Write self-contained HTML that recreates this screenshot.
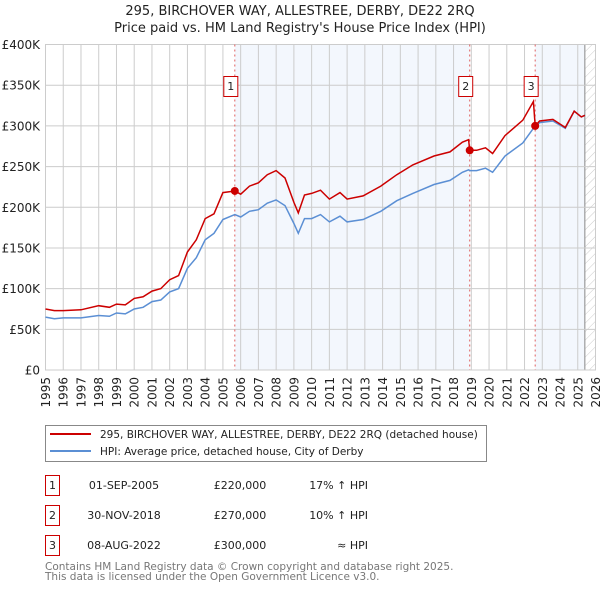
<!DOCTYPE html>
<html><head><meta charset="utf-8"><style>
body{margin:0;background:#fff;font-family:"Liberation Sans","DejaVu Sans",sans-serif;}
svg text{font-family:"DejaVu Sans","Liberation Sans",sans-serif;}
</style></head><body>
<svg id="chart" width="600" height="590" viewBox="0 0 600 590" xmlns="http://www.w3.org/2000/svg">
<defs>
<pattern id="hatch" width="6" height="6" patternUnits="userSpaceOnUse" patternTransform="rotate(45)"><line x1="0" y1="0" x2="0" y2="6" stroke="#ccc" stroke-width="1"/></pattern>
</defs>
<text x="300" y="15" text-anchor="middle" font-size="13" fill="#222">295, BIRCHOVER WAY, ALLESTREE, DERBY, DE22 2RQ</text>
<text x="300" y="32" text-anchor="middle" font-size="13" fill="#222">Price paid vs. HM Land Registry's House Price Index (HPI)</text>
<g id="plot"></g>
<g>
<rect x="45.5" y="425.5" width="441" height="36" fill="#fff" stroke="#888"/>
<line x1="50" y1="434" x2="91" y2="434" stroke="#cc0000" stroke-width="2"/>
<text x="100" y="438" font-size="10.5" fill="#222">295, BIRCHOVER WAY, ALLESTREE, DERBY, DE22 2RQ (detached house)</text>
<line x1="50" y1="451" x2="91" y2="451" stroke="#5b8fd4" stroke-width="2"/>
<text x="100" y="455" font-size="10.5" fill="#222">HPI: Average price, detached house, City of Derby</text>
</g>
<g font-size="11" fill="#222">
<rect x="45.5" y="475.5" width="14" height="20" fill="#fff" stroke="#cc0000"/><text x="52.5" y="489" text-anchor="middle">1</text>
<text x="124" y="489" text-anchor="middle">01-SEP-2005</text><text x="240" y="489" text-anchor="middle">£220,000</text><text x="368" y="489" text-anchor="end">17% ↑ HPI</text>
<rect x="45.5" y="505.5" width="14" height="20" fill="#fff" stroke="#cc0000"/><text x="52.5" y="519" text-anchor="middle">2</text>
<text x="124" y="519" text-anchor="middle">30-NOV-2018</text><text x="240" y="519" text-anchor="middle">£270,000</text><text x="368" y="519" text-anchor="end">10% ↑ HPI</text>
<rect x="45.5" y="535.5" width="14" height="20" fill="#fff" stroke="#cc0000"/><text x="52.5" y="549" text-anchor="middle">3</text>
<text x="124" y="549" text-anchor="middle">08-AUG-2022</text><text x="240" y="549" text-anchor="middle">£300,000</text><text x="368" y="549" text-anchor="end">≈ HPI</text>
</g>
<text x="45" y="570" font-size="10.5" fill="#777">Contains HM Land Registry data © Crown copyright and database right 2025.</text>
<text x="45" y="580" font-size="10.5" fill="#777">This data is licensed under the Open Government Licence v3.0.</text>
</svg>
<script>
const years=[1995,1995.5,1996,1997,1998,1998.6,1999,1999.5,2000,2000.5,2001,2001.5,2002,2002.5,2003,2003.5,2004,2004.5,2005,2005.67,2006,2006.5,2007,2007.5,2008,2008.5,2009,2009.25,2009.6,2010,2010.5,2011,2011.6,2012,2012.9,2013.9,2014.8,2015.7,2016.9,2017.8,2018.5,2018.85,2018.91,2019.3,2019.8,2020.2,2020.9,2021.9,2022.5,2022.6,2022.85,2023.6,2024.3,2024.8,2025.2,2025.4];
const hpi=[65,63,64,64,67,66,70,69,75,77,84,86,96,100,125,138,160,168,185,191,188,195,197,205,209,202,180,168,186,186,191,182,189,182,185,195,208,217,228,233,243,246,245,245,248,243,263,279,297,300,304,306,297,318,311,313];
const price=[75,73,73,74,79,77,81,80,88,90,97,100,111,116,145,160,186,192,218,220,216,226,230,240,245,236,206,193,215,217,221,210,218,210,214,226,240,252,263,268,280,283,270,270,273,266,288,307,330,300,306,308,298,318,311,313];
const saleYears=[2005.67,2018.91,2022.6];
const salePrices=[220,270,300];
const saleLabels=['1','2','3'];
const yTicks=[0,50,100,150,200,250,300,350,400];
const xTicks=[1995,1996,1997,1998,1999,2000,2001,2002,2003,2004,2005,2006,2007,2008,2009,2010,2011,2012,2013,2014,2015,2016,2017,2018,2019,2020,2021,2022,2023,2024,2025,2026];
const NS='http://www.w3.org/2000/svg';
const L=45.5,R=595.5,T=44.5,B=370;
const xs=y=>L+(y-1995)/(2026-1995)*(R-L);
const ys=v=>B-v/400*(B-T);
const g=document.getElementById('plot');
function mk(t,a,p){const e=document.createElementNS(NS,t);for(const k in a)e.setAttribute(k,a[k]);(p||g).appendChild(e);return e;}
let s=mk('rect',{x:xs(saleYears[0]),y:T,width:xs(saleYears[1])-xs(saleYears[0]),height:B-T,fill:'#eef3fc',opacity:0.7});


s=mk('rect',{x:xs(saleYears[2]),y:T,width:xs(2025.4)-xs(saleYears[2]),height:B-T,fill:'#eef3fc',opacity:0.7});


s=mk('rect',{x:xs(2025.4),y:T,width:R-xs(2025.4),height:B-T,fill:'url(#hatch)'});


mk('line',{x1:xs(2025.4),y1:T,x2:xs(2025.4),y2:B,stroke:'#888','stroke-width':1});
xTicks.forEach(t=>{mk('line',{x1:xs(t),y1:T,x2:xs(t),y2:B,stroke:'#ccc','stroke-width':1});
 const tx=mk('text',{x:0,y:0,'font-size':12,fill:'#222','text-anchor':'end',transform:`translate(${xs(t)+4.5},377) rotate(-90)`});tx.textContent=t;
 
 });
yTicks.forEach(t=>{mk('line',{x1:L,y1:ys(t),x2:R,y2:ys(t),stroke:'#ccc','stroke-width':1});
 const tx=mk('text',{x:40,y:ys(t)+4.5,'font-size':12,fill:'#222','text-anchor':'end'});tx.textContent=t===0?'£0':'£'+t+'K';
 
 });
mk('rect',{x:L,y:T,width:R-L,height:B-T,fill:'none',stroke:'#ccc'});
saleYears.forEach((y,i)=>{mk('line',{x1:xs(y),y1:T,x2:xs(y),y2:B,stroke:'#e06060','stroke-width':1,'stroke-dasharray':'2,3'});
 const b=mk('rect',{x:xs(y)-11,y:76.5,width:14,height:20,fill:'#fff',stroke:'#cc0000'});
 
 
 const t=mk('text',{x:xs(y)-4,y:90,'font-size':11,fill:'#222','text-anchor':'middle'});t.textContent=saleLabels[i];});
const path=arr=>arr.map((v,i)=>(i?'L':'M')+xs(years[i]).toFixed(1)+','+ys(v).toFixed(1)).join('');
let p=mk('path',{d:path(hpi),fill:'none',stroke:'#5b8fd4','stroke-width':1.5});


p=mk('path',{d:path(price),fill:'none',stroke:'#cc0000','stroke-width':1.5});


saleYears.forEach((y,i)=>{const c=mk('circle',{cx:xs(y),cy:ys(salePrices[i]),r:4,fill:'#cc0000'});
 
 });
</script>
</body></html>
